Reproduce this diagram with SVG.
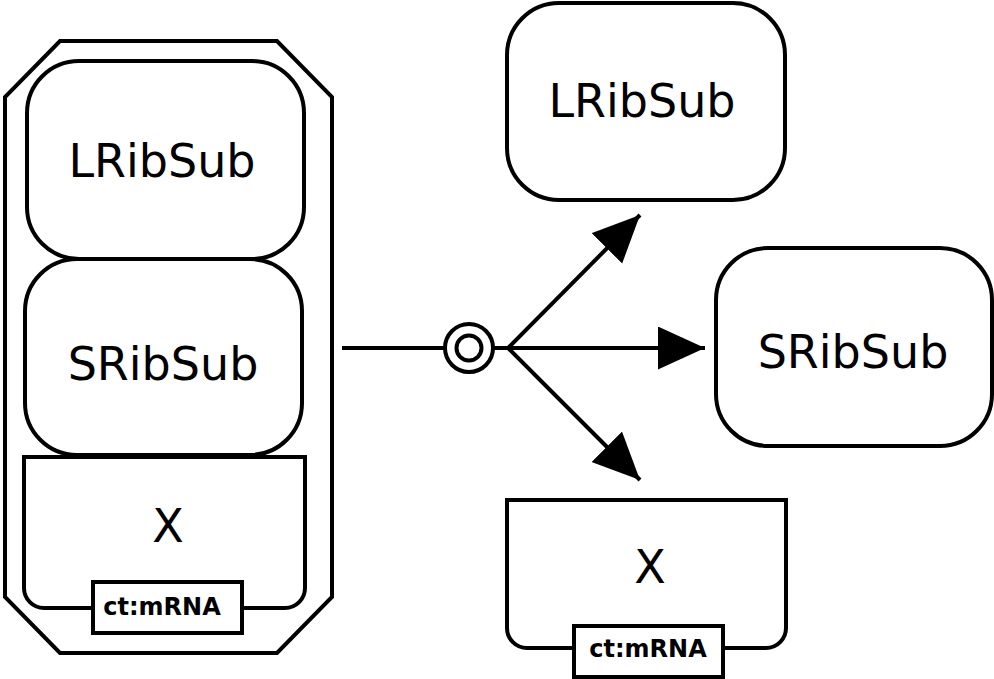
<svg xmlns="http://www.w3.org/2000/svg" width="994" height="679" viewBox="0 0 994 679">
<style>
.s{fill:#fff;stroke:#000;stroke-width:4}
.t{font-family:"DejaVu Sans",sans-serif;font-size:46px;text-anchor:middle;fill:#000}
.b{font-family:"DejaVu Sans",sans-serif;font-size:24px;font-weight:bold;text-anchor:middle;fill:#000}
.c{fill:none;stroke:#000;stroke-width:4}
</style>
<defs>
<marker id="arr" markerUnits="userSpaceOnUse" markerWidth="48" markerHeight="44" refX="47" refY="21.5" orient="auto">
<path d="M0,0 L47,21.5 L0,43 Z" fill="#000"/>
</marker>
</defs>
<g id="complex">
<path class="s" d="M60,41 H277 L332,97 V597 L277,653 H60 L5,597 V97 Z"/>
<g id="c-lrib">
<rect class="s" x="27" y="61" width="277" height="198" rx="52"/>
<text class="t" x="162" y="177">LRibSub</text>
</g>
<g id="c-srib">
<rect class="s" x="25" y="259" width="277" height="196" rx="52"/>
<text class="t" x="163" y="380">SRibSub</text>
</g>
<g id="c-x">
<path class="s" d="M24,457 H305 V588 A20,20 0 0 1 285,608 H44 A20,20 0 0 1 24,588 Z"/>
<text class="t" x="168" y="542">X</text>
<rect class="s" x="93" y="582" width="149" height="51"/>
<text class="b" x="162" y="615">ct:mRNA</text>
</g>
</g>
<g id="lrib">
<rect class="s" x="507" y="3" width="278" height="197" rx="52"/>
<text class="t" x="642" y="117">LRibSub</text>
</g>
<g id="srib">
<rect class="s" x="716" y="248" width="276" height="198" rx="52"/>
<text class="t" x="853" y="368">SRibSub</text>
</g>
<g id="x">
<path class="s" d="M507,500 H786 V628 A20,20 0 0 1 766,648 H527 A20,20 0 0 1 507,628 Z"/>
<text class="t" x="650" y="583">X</text>
<rect class="s" x="574" y="626" width="149" height="51"/>
<text class="b" x="648" y="657">ct:mRNA</text>
</g>
<g id="connectors">
<line class="c" x1="342" y1="348" x2="445" y2="348"/>
<line class="c" x1="493" y1="348" x2="508" y2="348"/>
<line class="c" x1="508" y1="348" x2="640" y2="215" marker-end="url(#arr)"/>
<line class="c" x1="508" y1="348" x2="705" y2="348" marker-end="url(#arr)"/>
<line class="c" x1="508" y1="348" x2="640" y2="480" marker-end="url(#arr)"/>
<g id="process">
<circle class="s" cx="469" cy="348" r="24"/>
<circle class="s" cx="469" cy="348" r="12.5"/>
</g>
</g>
</svg>
